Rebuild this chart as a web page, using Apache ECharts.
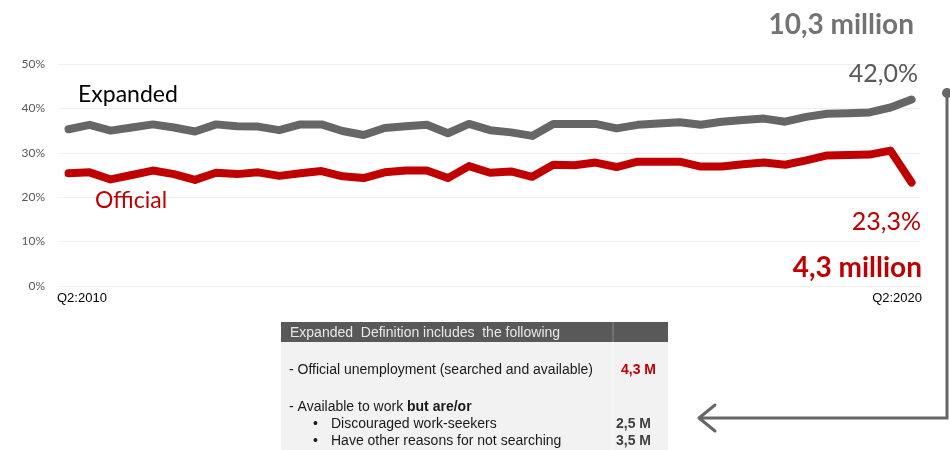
<!DOCTYPE html>
<html>
<head>
<meta charset="utf-8">
<script src="https://cdn.jsdelivr.net/npm/echarts@6/dist/echarts.min.js"></script>
<style>
  html, body { margin: 0; padding: 0; background: #fff; }
  #chart { width: 950px; height: 450px; }
</style>
</head>
<body>
<div id="chart"></div>
<script>
// quarters, Q2:2010 .. Q2:2020
const quarters = [
  'Q2:2010', 'Q3:2010', 'Q4:2010',
  'Q1:2011', 'Q2:2011', 'Q3:2011', 'Q4:2011',
  'Q1:2012', 'Q2:2012', 'Q3:2012', 'Q4:2012',
  'Q1:2013', 'Q2:2013', 'Q3:2013', 'Q4:2013',
  'Q1:2014', 'Q2:2014', 'Q3:2014', 'Q4:2014',
  'Q1:2015', 'Q2:2015', 'Q3:2015', 'Q4:2015',
  'Q1:2016', 'Q2:2016', 'Q3:2016', 'Q4:2016',
  'Q1:2017', 'Q2:2017', 'Q3:2017', 'Q4:2017',
  'Q1:2018', 'Q2:2018', 'Q3:2018', 'Q4:2018',
  'Q1:2019', 'Q2:2019', 'Q3:2019', 'Q4:2019',
  'Q1:2020', 'Q2:2020'
];

// unemployment rate, %
const expanded = [
  35.3, 36.3, 35.0,
  35.7, 36.4, 35.7, 34.8,
  36.4, 36.0, 35.9, 35.1,
  36.4, 36.4, 34.9, 34.0,
  35.6, 36.0, 36.3, 34.4,
  36.5, 35.1, 34.6, 33.8,
  36.5, 36.5, 36.5, 35.5,
  36.3, 36.6, 36.9, 36.3,
  37.0, 37.4, 37.7, 37.0,
  38.1, 38.8, 38.9, 39.1,
  40.2, 42.0
];
const official = [
  25.4, 25.6, 24.0,
  25.0, 26.0, 25.2, 23.9,
  25.5, 25.2, 25.6, 24.8,
  25.4, 25.9, 24.7, 24.3,
  25.6, 26.0, 26.0, 24.3,
  27.0, 25.5, 25.8, 24.6,
  27.3, 27.2, 27.8, 26.8,
  28.0, 28.0, 28.0, 26.9,
  26.9, 27.4, 27.8, 27.3,
  28.3, 29.4, 29.5, 29.6,
  30.5, 23.3
];
const yTicks = [0, 10, 20, 30, 40, 50];

// table rows
const tableHeader = 'Expanded  Definition includes  the following';
const officialRow = ['- Official unemployment (searched and available)', '4,3 M'];
const availableRow = '- Available to work ';
const subRows = [
  ['Discouraged work-seekers', '2,5 M'],
  ['Have other reasons for not searching', '3,5 M']
];

const GREY = '#666666';
const RED = '#c00000';
const TABLE_FONT = '14px "Liberation Sans"';
const TABLE_BOLD = 'bold 14px "Liberation Sans"';

const toPairs = arr => arr.map((v, i) => [i, v]);

const chart = echarts.init(document.getElementById('chart'));

const txt = (x, y, text, font, fill, align) => ({
  type: 'text', x: x, y: y, z: 100, silent: true,
  style: { text: text, font: font, fill: fill, align: align || 'left', verticalAlign: 'middle' }
});

chart.setOption({
  animation: false,
  grid: { left: 58, right: 30, top: 64, bottom: 164 },
  xAxis: {
    type: 'value',
    min: -0.5,
    max: 40.4,
    axisLine: { show: false },
    axisTick: { show: false },
    axisLabel: { show: false },
    splitLine: { show: false }
  },
  yAxis: {
    type: 'value',
    min: yTicks[0],
    max: yTicks[yTicks.length - 1],
    interval: 10,
    axisLine: { show: false },
    axisTick: { show: false },
    axisLabel: {
      formatter: '{value}%',
      color: '#595959',
      fontFamily: 'Lato',
      fontSize: 12,
      margin: 13
    },
    splitLine: { lineStyle: { color: '#efefef', width: 1 } }
  },
  series: [
    {
      name: 'Expanded',
      type: 'line',
      data: toPairs(expanded),
      showSymbol: false,
      lineStyle: { color: GREY, width: 8, cap: 'round', join: 'round' }
    },
    {
      name: 'Official',
      type: 'line',
      data: toPairs(official),
      showSymbol: false,
      lineStyle: { color: RED, width: 8, cap: 'round', join: 'round' }
    }
  ],
  graphic: [
    txt(78, 95, 'Expanded', '23px Lato', '#000'),
    txt(95, 201, 'Official', '23px Lato', RED),
    txt(914, 25, '10,3 million', 'bold 28px Lato', '#737373', 'right'),
    txt(918, 74, '42,0%', '25px Lato', '#595959', 'right'),
    txt(921, 222, '23,3%', '25px Lato', RED, 'right'),
    txt(922, 268, '4,3 million', 'bold 28px Lato', RED, 'right'),
    txt(57, 298, quarters[0], '13px "Liberation Sans"', '#000'),
    txt(922, 298, quarters[quarters.length - 1], '13px "Liberation Sans"', '#000', 'right'),

    // definition table
    { type: 'rect', silent: true, shape: { x: 281, y: 342, width: 387, height: 120 }, style: { fill: '#f2f2f2' } },
    { type: 'rect', silent: true, shape: { x: 281, y: 322, width: 387, height: 20 }, style: { fill: '#595959' } },
    { type: 'line', silent: true, shape: { x1: 613, y1: 322, x2: 613, y2: 342 }, style: { stroke: '#8a8a8a', lineWidth: 1 } },
    { type: 'line', silent: true, shape: { x1: 613, y1: 342, x2: 613, y2: 450 }, style: { stroke: '#fafafa', lineWidth: 1 } },
    txt(290, 333, tableHeader, TABLE_FONT, '#e8e8e8'),
    txt(289, 370, officialRow[0], TABLE_FONT, '#1a1a1a'),
    txt(656, 370, officialRow[1], TABLE_BOLD, RED, 'right'),
    {
      type: 'text', x: 289, y: 407, z: 100, silent: true,
      style: {
        text: '{n|' + availableRow + '}{b|but are/or}',
        verticalAlign: 'middle',
        rich: {
          n: { font: TABLE_FONT, fill: '#1a1a1a' },
          b: { font: TABLE_BOLD, fill: '#1a1a1a' }
        }
      }
    },
    txt(313, 424, '\u2022', TABLE_FONT, '#1a1a1a'),
    txt(331, 424, subRows[0][0], TABLE_FONT, '#1a1a1a'),
    txt(651, 424, subRows[0][1], TABLE_BOLD, '#404040', 'right'),
    txt(313, 441, '\u2022', TABLE_FONT, '#1a1a1a'),
    txt(331, 441, subRows[1][0], TABLE_FONT, '#1a1a1a'),
    txt(651, 441, subRows[1][1], TABLE_BOLD, '#404040', 'right'),

    // connector arrow
    { type: 'polyline', silent: true, shape: { points: [[947, 93], [947, 418], [700, 418]] }, style: { stroke: GREY, lineWidth: 3, fill: null } },
    { type: 'polyline', silent: true, shape: { points: [[715, 405], [699, 418], [715, 431]] }, style: { stroke: GREY, lineWidth: 3, fill: null, lineCap: 'round', lineJoin: 'round' } },
    { type: 'circle', silent: true, shape: { cx: 947, cy: 93, r: 5 }, style: { fill: GREY } }
  ]
});
</script>
</body>
</html>
